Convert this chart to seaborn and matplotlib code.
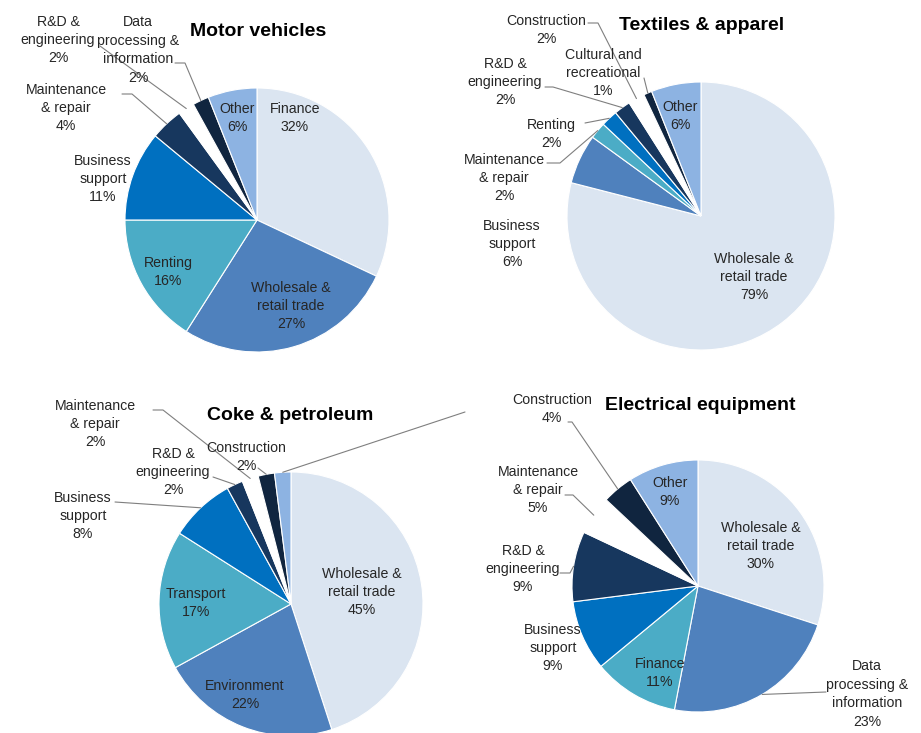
import numpy as np
import matplotlib
matplotlib.use('Agg')
import matplotlib.pyplot as plt
import seaborn as sns

sns.set_theme(style='white')
plt.rcParams['font.family'] = ['Liberation Sans', 'DejaVu Sans']

# slice colours, same order in every pie (clockwise from 12 o'clock)
colors = ['#dbe5f1', '#4f81bd', '#4bacc6', '#0070c0', '#17375e', '#ffffff', '#10253f', '#8db3e2']

# data
mv_names = ['Finance', 'Wholesale &\nretail trade', 'Renting', 'Business\nsupport',
            'Maintenance\n& repair', 'R&D &\nengineering', 'Data\nprocessing &\ninformation', 'Other']
mv_values = [32, 27, 16, 11, 4, 2, 2, 6]

tx_names = ['Wholesale &\nretail trade', 'Business\nsupport', 'Maintenance\n& repair', 'Renting',
            'R&D &\nengineering', 'Construction', 'Cultural and\nrecreational', 'Other']
tx_values = [79, 6, 2, 2, 2, 2, 1, 6]

ck_names = ['Wholesale &\nretail trade', 'Environment', 'Transport', 'Business\nsupport',
            'R&D &\nengineering', 'Maintenance\n& repair', 'Construction', 'Other']
ck_values = [45, 22, 17, 8, 2, 2, 2, 2]

el_names = ['Wholesale &\nretail trade', 'Data\nprocessing &\ninformation', 'Finance', 'Business\nsupport',
            'R&D &\nengineering', 'Maintenance\n& repair', 'Construction', 'Other']
el_values = [30, 23, 11, 9, 9, 5, 4, 9]

# layout (pixel coords, y down)
charts = [
    dict(title='Motor vehicles', names=mv_names, values=mv_values,
         center=(257, 220), r=132, title_xy=(258, 31),
         label_xy=[(295, 118), (291, 306), (168, 272), (103, 179), (66, 108), (58, 40), (138, 50), (237, 118)],
         leaders={4: [(122, 94), (132, 94)], 5: [(100, 46)], 6: [(175, 63), (185, 63)]}),
    dict(title='Textiles & apparel', names=tx_names, values=tx_values,
         center=(701, 216), r=134, title_xy=(702, 25),
         label_xy=[(754, 277), (512, 244), (504, 178), (551, 134), (505, 82), (546, 30), (603, 73), (680, 116)],
         leaders={2: [(547, 163), (560, 163)], 3: [(585, 123)], 4: [(545, 87), (553, 87)],
                  5: [(588, 23), (598, 23)], 6: [(644, 78)]}),
    dict(title='Coke & petroleum', names=ck_names, values=ck_values,
         center=(291, 604), r=132, title_xy=(290, 415),
         label_xy=[(362, 592), (245, 695), (196, 603), (83, 516), (173, 472), (95, 424), (246, 457), None],
         leaders={3: [(115, 502)], 4: [(213, 477)], 5: [(153, 410), (163, 410)],
                  6: [(258, 468)], 7: [(465, 412)]}),
    dict(title='Electrical equipment', names=el_names, values=el_values,
         center=(698, 586), r=126, title_xy=(700, 405),
         label_xy=[(761, 546), (867, 694), (660, 673), (553, 648), (523, 569), (538, 490), (552, 409), (670, 492)],
         leaders={1: [(826, 692)], 4: [(560, 573), (570, 573)], 5: [(565, 495), (573, 495)],
                  6: [(568, 422), (572, 422)]}),
]

fig = plt.figure(figsize=(9.21, 7.33), dpi=100)
ax = fig.add_axes([0, 0, 1, 1])

for c in charts:
    cx, cy = c['center']
    r = c['r']
    vals = np.array(c['values'], dtype=float)
    # y axis is inverted -> counterclock=True draws clockwise on screen, -90 is 12 o'clock
    ax.pie(vals, colors=colors, center=(cx, cy), radius=r, startangle=-90, counterclock=True,
           wedgeprops=dict(edgecolor='white', linewidth=0.8), frame=False)

    ax.text(c['title_xy'][0], c['title_xy'][1], c['title'], ha='center', va='center',
            fontsize=14, fontweight='bold', color='black')

    for name, v, xy in zip(c['names'], c['values'], c['label_xy']):
        if xy is None:
            continue
        ax.text(xy[0], xy[1], f'{name}\n{v}%', ha='center', va='center',
                fontsize=10.2, color='#262626', linespacing=1.4)

    # leader lines: from label to middle of the slice edge
    cum = np.cumsum(vals) - vals / 2
    mid = cum / vals.sum() * 360
    for i, pts in c['leaders'].items():
        phi = np.deg2rad(mid[i])
        end = (cx + r * np.sin(phi), cy - r * np.cos(phi))
        xs = [p[0] for p in pts] + [end[0]]
        ys = [p[1] for p in pts] + [end[1]]
        ax.plot(xs, ys, color='#7f7f7f', lw=0.8)

ax.set_xlim(0, 921)
ax.set_ylim(733, 0)
ax.set_aspect('equal')
ax.axis('off')

fig.savefig('out.png', dpi=100, facecolor='white')
